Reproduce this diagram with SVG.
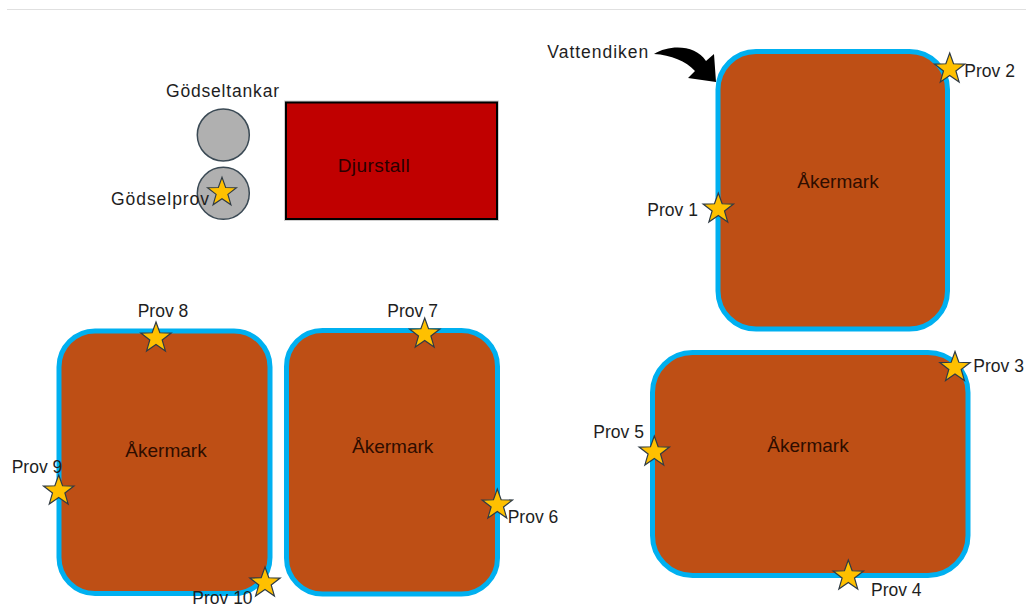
<svg xmlns="http://www.w3.org/2000/svg" xmlns:xlink="http://www.w3.org/1999/xlink" width="1026" height="609" viewBox="0 0 1026 609">
<style>
.field{fill:#BE4F15;stroke:#00B0F0;stroke-width:5}
.ftxt{font-family:"Liberation Sans",Arial,sans-serif;font-size:19px;fill:#2E0D00;text-anchor:middle}
.lbl{font-family:"Liberation Sans",Arial,sans-serif;font-size:17.5px;fill:#1E1E1E}
.star{fill:#FFC000;stroke:#2F3B45;stroke-width:1.2;stroke-linejoin:miter}
.tank{fill:#B0B0B0;stroke:#3B4A55;stroke-width:1.5}
</style>
<defs>
<path id="star" class="star" d="M0,-16 L3.83,-5.27 L15.22,-4.95 L6.19,2.01 L9.41,12.95 L0,6.5 L-9.41,12.95 L-6.19,2.01 L-15.22,-4.95 L-3.83,-5.27 Z"/>
</defs>
<rect x="0" y="0" width="1026" height="609" fill="#FFFFFF"/>
<line x1="7" y1="9.5" x2="1026" y2="9.5" stroke="#E0E0E0" stroke-width="1"/>

<g id="falt-nordost">
<rect class="field" x="718" y="51.5" width="229.5" height="277.5" rx="38" ry="38"/>
<text class="ftxt" x="838" y="188">Åkermark</text>
</g>
<g id="falt-sydost">
<rect class="field" x="652.5" y="352.5" width="315.5" height="223" rx="40" ry="40"/>
<text class="ftxt" x="808" y="452">Åkermark</text>
</g>
<g id="falt-sydvast">
<rect class="field" x="59" y="331" width="211" height="262.5" rx="36" ry="36"/>
<text class="ftxt" x="166" y="457">Åkermark</text>
</g>
<g id="falt-mitt">
<rect class="field" x="286.5" y="330.5" width="211" height="263.5" rx="36" ry="36"/>
<text class="ftxt" x="392.7" y="453">Åkermark</text>
</g>

<g id="djurstall">
<rect x="286" y="102.5" width="211" height="116.5" fill="none" stroke="#D0D0D0" stroke-width="4"/>
<rect x="286" y="102.5" width="211" height="116.5" fill="#C00000" stroke="#000000" stroke-width="2"/>
<text x="337.7" y="172" font-family="'Liberation Sans',Arial,sans-serif" font-size="19" fill="#2A0000" textLength="72">Djurstall</text>
</g>

<g id="godseltankar">
<text class="lbl" x="166" y="96.7" textLength="113">Gödseltankar</text>
<circle class="tank" cx="223.3" cy="135" r="26"/>
<circle class="tank" cx="223.3" cy="193.3" r="26"/>
</g>
<g id="godselprov">
<text class="lbl" x="111" y="205" textLength="98">Gödselprov</text>
<use xlink:href="#star" transform="translate(222,192.5) scale(0.95)"/>
</g>

<g id="vattendiken">
<text class="lbl" x="547.3" y="58.3" textLength="101">Vattendiken</text>
</g>

<g id="prov1"><text class="lbl" x="647.3" y="215.7">Prov 1</text><use xlink:href="#star" transform="translate(718.3,209)"/></g>
<g id="prov2"><text class="lbl" x="964.3" y="77.3">Prov 2</text><use xlink:href="#star" transform="translate(949.7,69)"/></g>
<g id="prov3"><text class="lbl" x="973.3" y="371.7">Prov 3</text><use xlink:href="#star" transform="translate(955,367.5)"/></g>
<g id="prov4"><text class="lbl" x="871" y="595.7">Prov 4</text><use xlink:href="#star" transform="translate(848.3,576)"/></g>
<g id="prov5"><text class="lbl" x="593.3" y="438.3">Prov 5</text><use xlink:href="#star" transform="translate(654.3,452)"/></g>
<g id="prov6"><text class="lbl" x="507.7" y="523.3">Prov 6</text><use xlink:href="#star" transform="translate(497.3,505)"/></g>
<g id="prov7"><text class="lbl" x="387.3" y="316.7">Prov 7</text><use xlink:href="#star" transform="translate(424.7,334)"/></g>
<g id="prov8"><text class="lbl" x="137.7" y="316.7">Prov 8</text><use xlink:href="#star" transform="translate(156,338)"/></g>
<g id="prov9"><text class="lbl" x="11.7" y="473">Prov 9</text><use xlink:href="#star" transform="translate(58.7,491)"/></g>
<g id="prov10"><text class="lbl" x="192.3" y="604">Prov 10</text><use xlink:href="#star" transform="translate(265,583)"/></g>

<g id="connectors">
<path d="M654,54 C670,44 696,45 706,61 L714,54 L716,82 L688,78 L695,71 C686,61 671,55 654,54 Z" fill="#000000"/>
</g>
</svg>
